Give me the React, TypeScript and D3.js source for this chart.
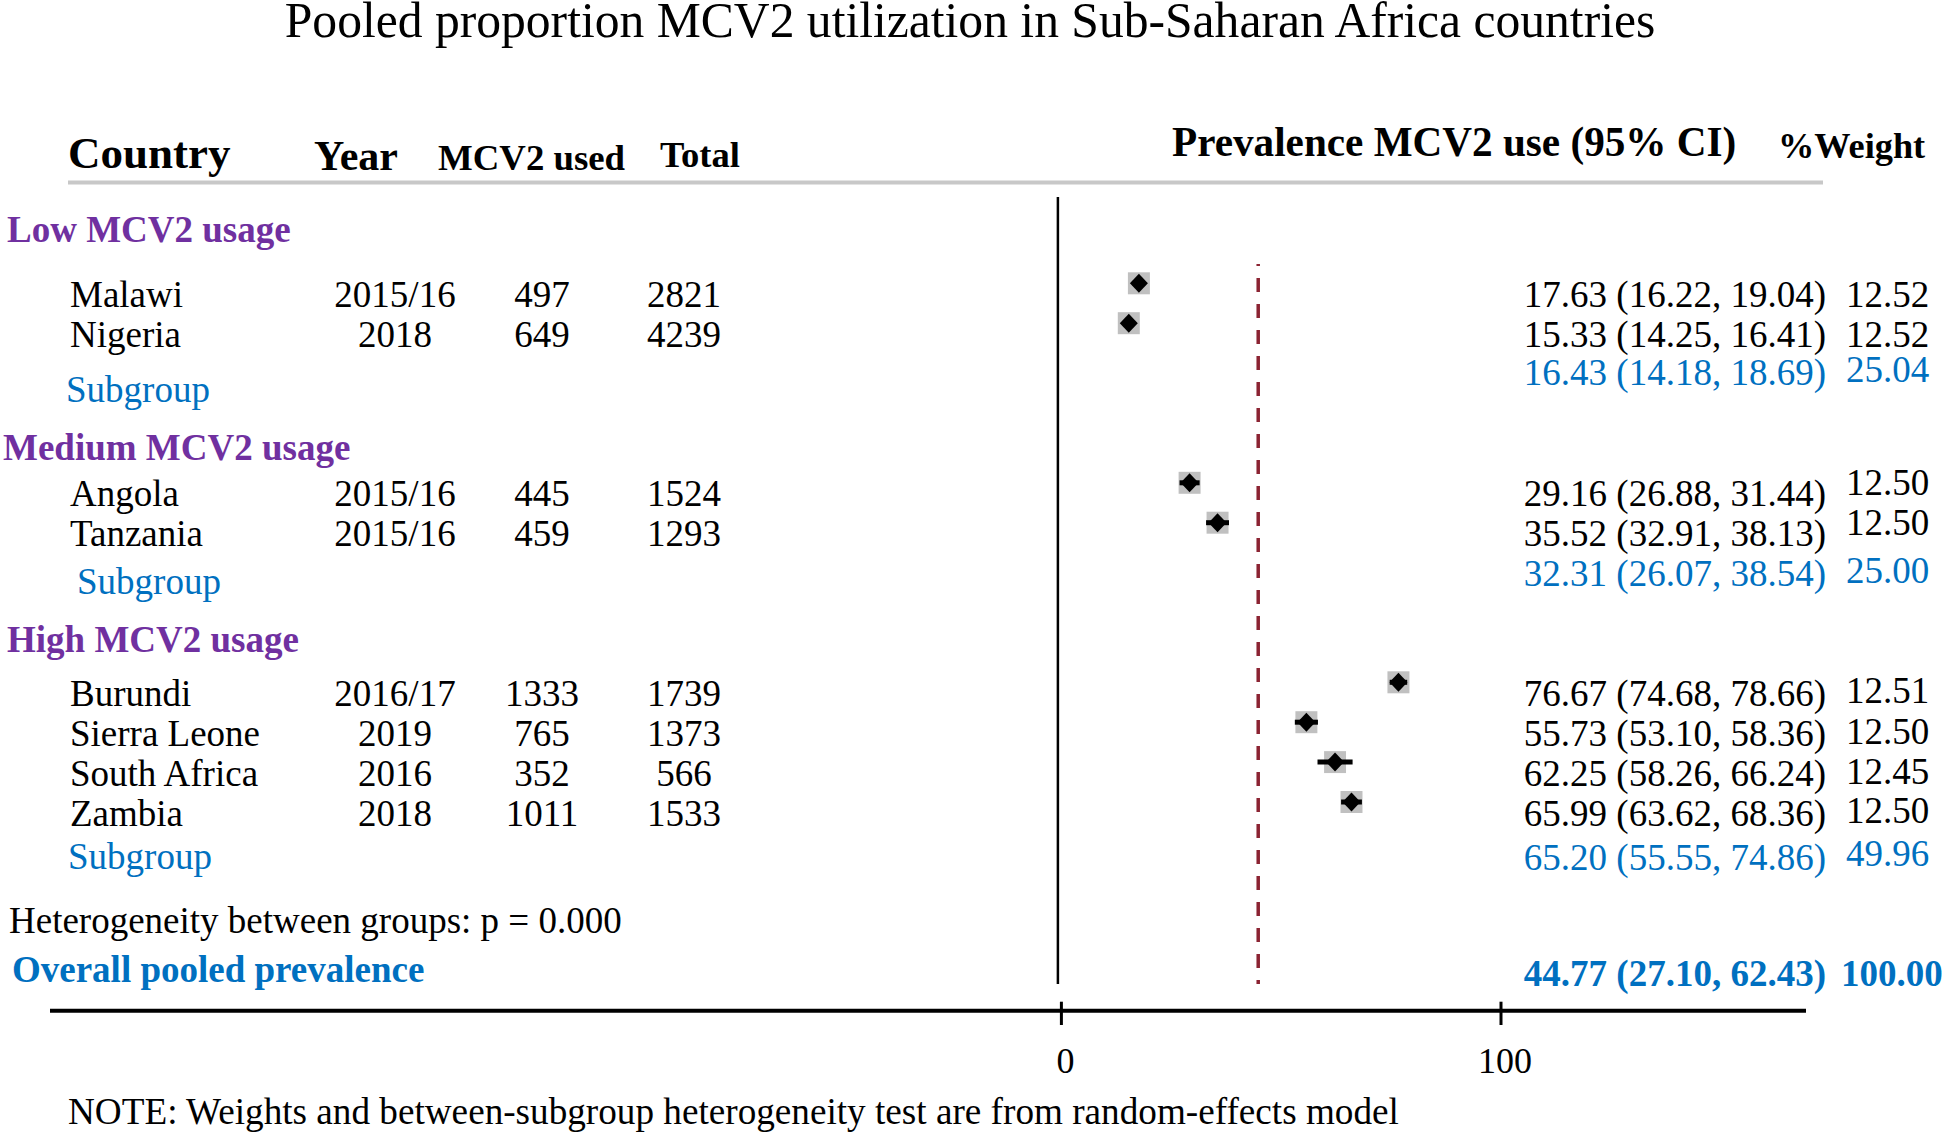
import React from "react";
import * as d3 from "d3";

// ---------- data ----------
const groupNames = ["Low MCV2 usage", "Medium MCV2 usage", "High MCV2 usage"];
const countries = ["Malawi", "Nigeria", "Angola", "Tanzania", "Burundi", "Sierra Leone", "South Africa", "Zambia"];
const studyGroup = [0, 0, 1, 1, 2, 2, 2, 2];
const years = ["2015/16", "2018", "2015/16", "2015/16", "2016/17", "2019", "2016", "2018"];
const mcv2Used = [497, 649, 445, 459, 1333, 765, 352, 1011];
const totals = [2821, 4239, 1524, 1293, 1739, 1373, 566, 1533];
const estimates = [17.63, 15.33, 29.16, 35.52, 76.67, 55.73, 62.25, 65.99];
const lower = [16.22, 14.25, 26.88, 32.91, 74.68, 53.10, 58.26, 63.62];
const upper = [19.04, 16.41, 31.44, 38.13, 78.66, 58.36, 66.24, 68.36];
const weights = [12.52, 12.52, 12.50, 12.50, 12.51, 12.50, 12.45, 12.50];

const subEst = [16.43, 32.31, 65.20];
const subLower = [14.18, 26.07, 55.55];
const subUpper = [18.69, 38.54, 74.86];
const subWeight = [25.04, 25.00, 49.96];

const overallEst = 44.77;
const overallLower = 27.10;
const overallUpper = 62.43;
const overallWeight = 100.0;
const heterogeneityP = "0.000";
const xTicks = [0, 100];

// ---------- style / layout ----------
const FONT = "'Liberation Serif', 'Times New Roman', Times, serif";
const PURPLE = "#7030A0";
const BLUE = "#0070C0";
const DASH = "#8B2332";

// hand-tuned offsets (layout only)
const headerDy = [-1, 17, 10];
const headerX = [7, 3, 7];
const subLeftDy = [39, 31, 27];
const subLeftX = [66, 77, 68];
const subRightDy = [22, 23, 28];
const subWeightDy = [19, 20, 24];
const studyWeightDy = [0, 0, -11, -11, -3, -2, -2, -3];

const fmt = (v: number) => v.toFixed(2);
const ciText = (e: number, l: number, u: number) => `${fmt(e)} (${fmt(l)}, ${fmt(u)})`;

export default function App() {
  const W = 1944, H = 1135;
  const x = d3.scaleLinear().domain([0, 100]).range([1061.4, 1501]);
  // row index -> y (study rows)
  const y = d3.scaleLinear().domain([0, 13]).range([283.3, 802]);
  const box = d3.scaleSqrt().domain([0, 12.52]).range([0, 22]);

  type Row = { kind: string; idx: number; row: number };
  const rows: Row[] = [];
  let r = -1;
  groupNames.forEach((_, g) => {
    rows.push({ kind: "header", idx: g, row: r++ });
    countries.forEach((_, i) => {
      if (studyGroup[i] === g) rows.push({ kind: "study", idx: i, row: r++ });
    });
    rows.push({ kind: "sub", idx: g, row: r++ });
    r++; // blank
  });
  const hetRow = r++;
  const overallRow = r++;

  const colCountry = 70;
  const colYear = 395;
  const colUsed = 542;
  const colTotal = 684;
  const colCI = 1826;
  const colW = 1846;

  const diamond = (cx: number, cy: number) => {
    const hw = 9, hh = 9.5;
    return `M${cx - hw},${cy} L${cx},${cy - hh} L${cx + hw},${cy} L${cx},${cy + hh} Z`;
  };

  return (
    <svg
      width={W}
      height={H}
      viewBox={`0 0 ${W} ${H}`}
      style={{ position: "absolute", left: 0, top: 0, display: "block", background: "#fff" }}
      fontFamily={FONT}
    >
      <rect x={0} y={0} width={W} height={H} fill="#fff" />
      <text x={970} y={37} fontSize={49.6} textAnchor="middle" fill="#000">
        Pooled proportion MCV2 utilization in Sub-Saharan Africa countries
      </text>

      <g fontWeight="bold" fill="#000">
        <text x={68} y={168} fontSize={45}>Country</text>
        <text x={314} y={170} fontSize={42}>Year</text>
        <text x={438} y={170} fontSize={36.8}>MCV2 used</text>
        <text x={660} y={167} fontSize={36.6}>Total</text>
        <text x={1172} y={156} fontSize={41.2}>Prevalence MCV2 use (95% CI)</text>
        <text x={1778} y={158} fontSize={36.3}>%Weight</text>
      </g>
      <line x1={68} x2={1823} y1={182.5} y2={182.5} stroke="#c8c8c8" strokeWidth={4} />

      <line x1={x(0) - 3.5} x2={x(0) - 3.5} y1={197} y2={984} stroke="#000" strokeWidth={2.5} />
      <line
        x1={x(overallEst)}
        x2={x(overallEst)}
        y1={264}
        y2={984}
        stroke={DASH}
        strokeWidth={3.5}
        strokeDasharray="14,12"
        strokeDashoffset={12}
      />

      {rows.map((rw, k) => {
        if (rw.kind === "header") {
          return (
            <text key={k} x={headerX[rw.idx]} y={y(rw.row) + headerDy[rw.idx]} fontSize={37} fontWeight="bold" fill={PURPLE}>
              {groupNames[rw.idx]}
            </text>
          );
        }
        if (rw.kind === "sub") {
          const g = rw.idx;
          return (
            <g key={k} fill={BLUE} fontSize={37}>
              <text x={subLeftX[g]} y={y(rw.row) + subLeftDy[g]}>Subgroup</text>
              <text x={colCI} y={y(rw.row) + subRightDy[g]} textAnchor="end">
                {ciText(subEst[g], subLower[g], subUpper[g])}
              </text>
              <text x={colW} y={y(rw.row) + subWeightDy[g]}>{fmt(subWeight[g])}</text>
            </g>
          );
        }
        const i = rw.idx;
        const cy = y(rw.row);
        const ty = cy + 23.5;
        const s = box(weights[i]);
        return (
          <g key={k}>
            <g fontSize={37} fill="#000">
              <text x={colCountry} y={ty}>{countries[i]}</text>
              <text x={colYear} y={ty} textAnchor="middle">{years[i]}</text>
              <text x={colUsed} y={ty} textAnchor="middle">{mcv2Used[i]}</text>
              <text x={colTotal} y={ty} textAnchor="middle">{totals[i]}</text>
              <text x={colCI} y={ty} textAnchor="end">{ciText(estimates[i], lower[i], upper[i])}</text>
              <text x={colW} y={ty + studyWeightDy[i]}>{fmt(weights[i])}</text>
            </g>
            <rect x={x(estimates[i]) - s / 2} y={cy - s / 2} width={s} height={s} fill="#c0c0c0" />
            <line x1={x(lower[i])} x2={x(upper[i])} y1={cy} y2={cy} stroke="#000" strokeWidth={5} />
            <path d={diamond(x(estimates[i]), cy)} fill="#000" />
          </g>
        );
      })}

      <text x={9} y={y(hetRow) + 11} fontSize={37} fill="#000">
        Heterogeneity between groups: p = {heterogeneityP}
      </text>
      <g fontWeight="bold" fill={BLUE} fontSize={37}>
        <text x={12} y={y(overallRow) + 20}>Overall pooled prevalence</text>
        <text x={colCI} y={y(overallRow) + 24} textAnchor="end">
          {ciText(overallEst, overallLower, overallUpper)}
        </text>
        <text x={1841} y={y(overallRow) + 24}>{fmt(overallWeight)}</text>
      </g>

      <line x1={50} x2={1806} y1={1010.7} y2={1010.7} stroke="#000" strokeWidth={4} />
      {xTicks.map((t) => (
        <g key={t}>
          <line x1={x(t)} x2={x(t)} y1={1001.7} y2={1025} stroke="#000" strokeWidth={3} />
          <text x={x(t) + 4} y={1073} fontSize={36} textAnchor="middle" fill="#000">{t}</text>
        </g>
      ))}

      <text x={68} y={1124} fontSize={37.2} fill="#000">
        NOTE: Weights and between-subgroup heterogeneity test are from random-effects model
      </text>
    </svg>
  );
}
